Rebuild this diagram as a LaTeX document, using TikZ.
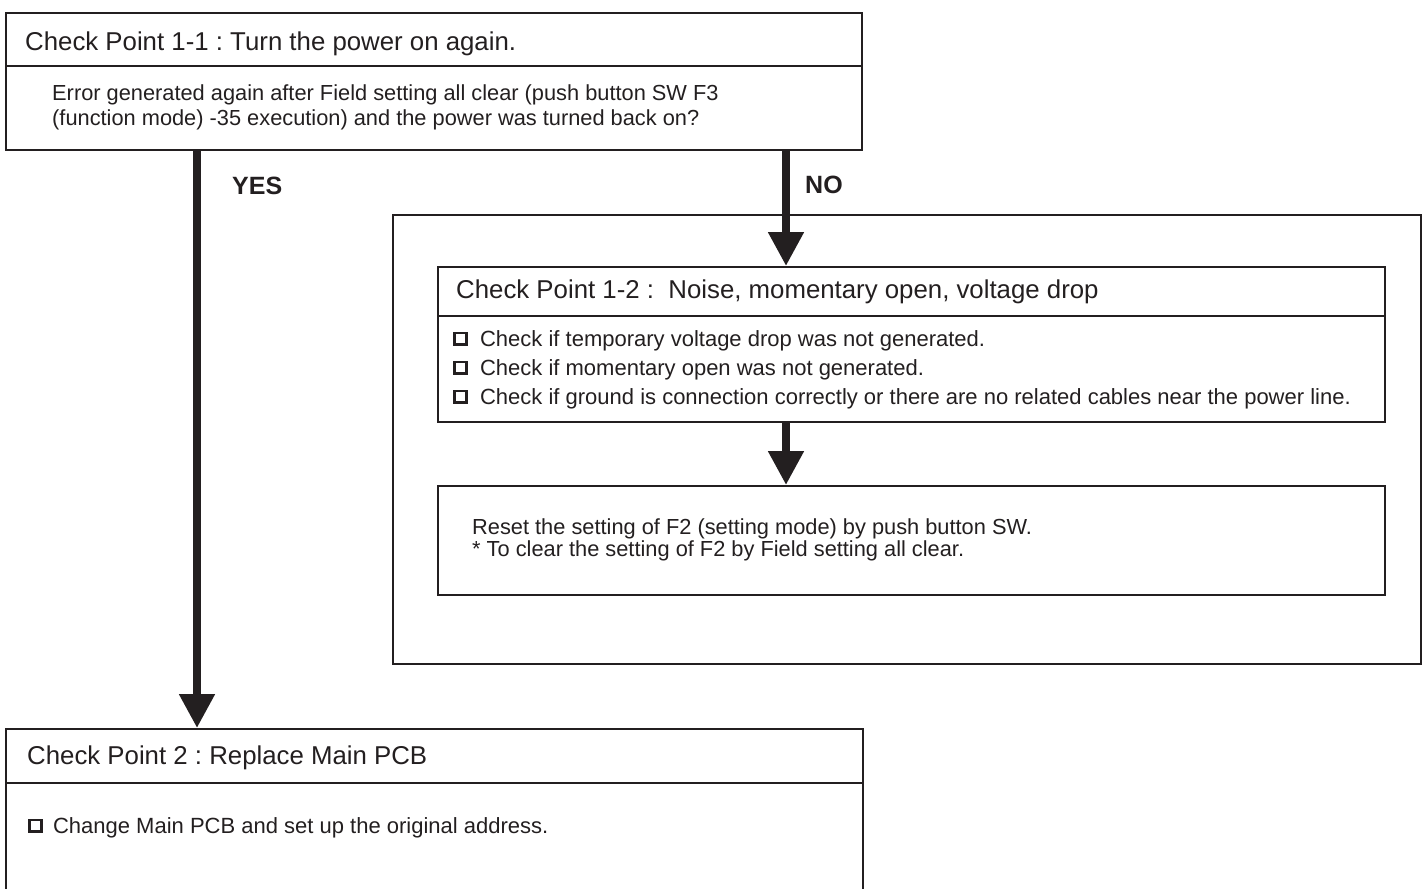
\documentclass[tikz,border=0pt]{standalone}
\usepackage{fontspec}
\setmainfont{Liberation Sans}
\usetikzlibrary{arrows.meta}
\definecolor{ink}{HTML}{231F20}
\frenchspacing
\newcommand\chk{\raisebox{2.6pt}{\setlength\fboxrule{2.6pt}\setlength\fboxsep{0pt}\fbox{\rule{0pt}{9.2pt}\hspace{9.2pt}}}}
\tikzset{
  cpbox/.style={draw=ink,line width=1.8pt,rectangle,inner sep=0pt,anchor=north west},
  cptitle/.style={anchor=base west,inner sep=0pt,text=ink,font=\fontsize{25.8}{30}\selectfont},
  cptext/.style={anchor=base west,inner sep=0pt,text=ink,font=\fontsize{21.8}{25}\selectfont},
  answer/.style={anchor=base west,inner sep=0pt,text=ink,font=\fontsize{25}{30}\selectfont\bfseries},
  bigarrow/.style={draw=ink,line width=8pt,-{Triangle[width=34pt,length=34pt]}}
}

\begin{document}
\begin{tikzpicture}[x=1pt,y=-1pt]
\useasboundingbox (0,0) rectangle (1422,889);
% boxes
\node[cpbox,minimum width=856pt,minimum height=137pt] (cpa) at (5,12) {};
\node[cpbox,minimum width=1028pt,minimum height=449pt] (nobox) at (392,214) {};
\node[cpbox,minimum width=947pt,minimum height=155pt] (cpb) at (437,266) {};
\node[cpbox,minimum width=947pt,minimum height=109pt] (cpc) at (437,485) {};
\node[cpbox,minimum width=857pt,minimum height=200pt] (cpd) at (5,728) {};
\draw[draw=ink,line width=1.8pt] (cpa.west |- 0,66) -- (cpa.east |- 0,66);
\draw[draw=ink,line width=1.8pt] (cpb.west |- 0,316) -- (cpb.east |- 0,316);
\draw[draw=ink,line width=2.2pt] (cpd.west |- 0,783) -- (cpd.east |- 0,783);
% texts
\node[cptitle] (cpatitle) at (25,50) {Check Point 1-1 : Turn the power on again.};
\node[cptext] (cpaline1) at (52,100) {Error generated again after Field setting all clear (push button SW F3};
\node[cptext] (cpaline2) at (52,125) {(function mode) -35 execution) and the power was turned back on?};
\node[cptitle] (cpbtitle) at (456,298) {Check Point 1-2 :~ Noise, momentary open, voltage drop};
\foreach \y/\lab/\nm in {346/Check if temporary voltage drop was not generated./itema,
                         375/Check if momentary open was not generated./itemb,
                         404/Check if ground is connection correctly or there are no related cables near the power line./itemc}{
 \node[cptext,font=\fontsize{22}{25}\selectfont] (\nm) at (453,\y) {\chk\hspace{12.5pt}\lab};
}
\node[cptext] (cpcline1) at (472,534) {Reset the setting of F2 (setting mode) by push button SW.};
\node[cptext] (cpcline2) at (472,556) {* To clear the setting of F2 by Field setting all clear.};
\node[cptitle] (cpdtitle) at (27,764) {Check Point 2 : Replace Main PCB};
\node[cptext,font=\fontsize{22}{25}\selectfont] (itemd) at (28,833) {\chk\hspace{10.5pt}Change Main PCB and set up the original address.};
\node[answer] (yes) at (232,194) {YES};
\node[answer] (no) at (805,193) {NO};
% arrows
\draw[bigarrow] ([xshift=192pt]cpa.south west) -- ([xshift=192pt]cpd.north west);
\draw[bigarrow] ([xshift=781pt]cpa.south west) -- ([xshift=349pt]cpb.north west);
\draw[bigarrow] ([xshift=349pt]cpb.south west) -- ([xshift=349pt]cpc.north west);
\end{tikzpicture}
\end{document}
